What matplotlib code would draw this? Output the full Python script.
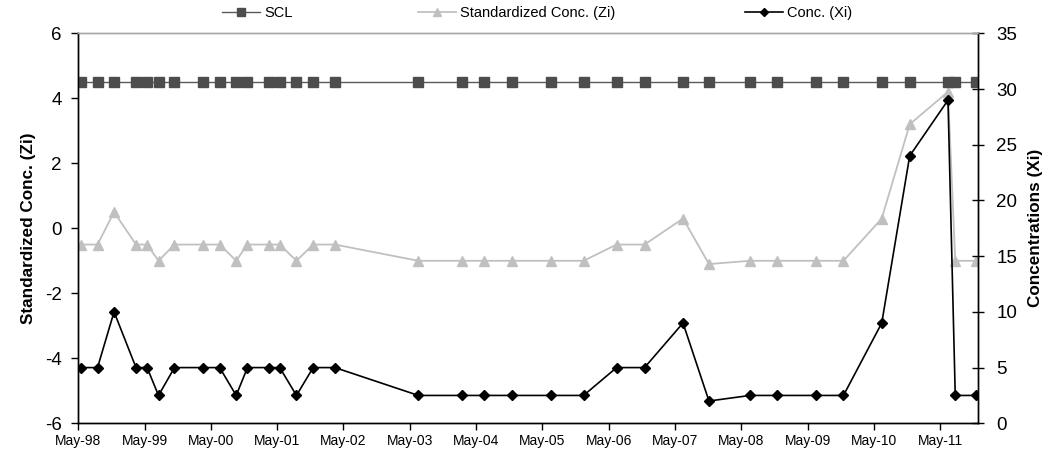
import matplotlib
matplotlib.use("Agg")
import matplotlib.pyplot as plt
import matplotlib.dates as mdates
from matplotlib.lines import Line2D
import datetime as dt

plt.rcParams['font.family'] = ['Liberation Sans', 'DejaVu Sans']
plt.rcParams['axes.unicode_minus'] = False

dates = [
    "1998-05-14", "1998-08-15", "1998-11-14", "1999-03-15", "1999-05-15",
    "1999-07-17", "1999-10-13", "2000-03-18", "2000-06-18", "2000-09-17",
    "2000-11-18", "2001-03-15", "2001-05-15", "2001-08-15", "2001-11-15",
    "2002-03-15", "2003-06-18", "2004-02-14", "2004-06-14", "2004-11-15",
    "2005-06-15", "2005-12-14", "2006-06-14", "2006-11-15", "2007-06-15",
    "2007-11-05", "2008-06-18", "2008-11-15", "2009-06-14", "2009-11-15",
    "2010-06-14", "2010-11-15", "2011-06-14", "2011-07-24", "2011-11-18",
]
conc_xi = [5, 5, 10, 5, 5, 2.5, 5, 5, 5, 2.5, 5, 5, 5, 2.5, 5, 5,
           2.5, 2.5, 2.5, 2.5, 2.5, 2.5, 5, 5, 9, 2,
           2.5, 2.5, 2.5, 2.5, 9, 24, 29, 2.5, 2.5]
std_zi = [-0.5, -0.5, 0.5, -0.5, -0.5, -1, -0.5, -0.5, -0.5, -1, -0.5, -0.5, -0.5, -1, -0.5, -0.5,
          -1, -1, -1, -1, -1, -1, -0.5, -0.5, 0.3, -1.1,
          -1, -1, -1, -1, 0.3, 3.2, 4.2, -1, -1]
scl = [4.5] * len(dates)

left_ticks = [-6, -4, -2, 0, 2, 4, 6]
right_ticks = [0, 5, 10, 15, 20, 25, 30, 35]

x = [dt.datetime.strptime(d, "%Y-%m-%d") for d in dates]

W, H = 1049, 453
fig = plt.figure(figsize=(W / 100, H / 100), dpi=100)
ax = fig.add_axes([78.3 / W, 1 - 423.3 / H, 900 / W, 390 / H])
ax2 = ax.twinx()

scl_col = '#4d4d4d'
zi_col = '#c0c0c0'

ax.plot(x, scl, color='#5a5a5a', lw=1.0, marker='s', markersize=6.8,
        markerfacecolor=scl_col, markeredgecolor=scl_col, zorder=3)
ax.plot(x, std_zi, color=zi_col, lw=1.3, marker='^', markersize=7.2,
        markerfacecolor=zi_col, markeredgecolor=zi_col, zorder=2)
ax2.plot(x, conc_xi, color='black', lw=1.2, marker='D', markersize=4.8,
         markerfacecolor='black', markeredgecolor='black', zorder=3)

ax.set_ylim(-6, 6)
ax.set_yticks(left_ticks)
ax2.set_ylim(0, 35)
ax2.set_yticks(right_ticks)

ax.set_xlim(dt.datetime(1998, 5, 1), dt.datetime(2011, 11, 28))
ax.xaxis.set_major_locator(mdates.MonthLocator(bymonth=5, bymonthday=1))
ax.xaxis.set_major_formatter(mdates.DateFormatter('%b-%y'))

for a in (ax, ax2):
    for s in a.spines.values():
        s.set_linewidth(1.0)
    a.spines['top'].set_color('#a6a6a6')
ax.spines['left'].set_color('black')
ax.spines['bottom'].set_color('black')
ax2.spines['right'].set_color('black')

ax.tick_params(axis='x', direction='out', length=5, width=1, labelsize=10, pad=3)
ax.tick_params(axis='y', direction='out', length=5, width=1, labelsize=13.5, pad=7)
ax2.tick_params(axis='y', direction='inout', length=8, width=1, labelsize=13.5, pad=9)

ax.set_ylabel('Standardized Conc. (Zi)', fontsize=12.3, fontweight='bold', labelpad=6)
ax2.set_ylabel('Concentrations (Xi)', fontsize=12.3, fontweight='bold', labelpad=8)

ax.patch.set_visible(False)

legend_entries = [
    (Line2D([], [], color='#5a5a5a', lw=1.0, marker='s', markersize=5.5,
            markerfacecolor=scl_col, markeredgecolor=scl_col), 'SCL', 222),
    (Line2D([], [], color=zi_col, lw=1.3, marker='^', markersize=5.5,
            markerfacecolor=zi_col, markeredgecolor=zi_col), 'Standardized Conc. (Zi)', 418),
    (Line2D([], [], color='black', lw=1.2, marker='D', markersize=4.0,
            markerfacecolor='black', markeredgecolor='black'), 'Conc. (Xi)', 745),
]
for h, lab, xp in legend_entries:
    fig.legend([h], [lab], loc='center left', bbox_to_anchor=(xp / W, 1 - 13 / H),
               frameon=False, fontsize=10.5, handlelength=2.6, handletextpad=0.3,
               borderpad=0, borderaxespad=0)

fig.savefig('out.png', dpi=100)
